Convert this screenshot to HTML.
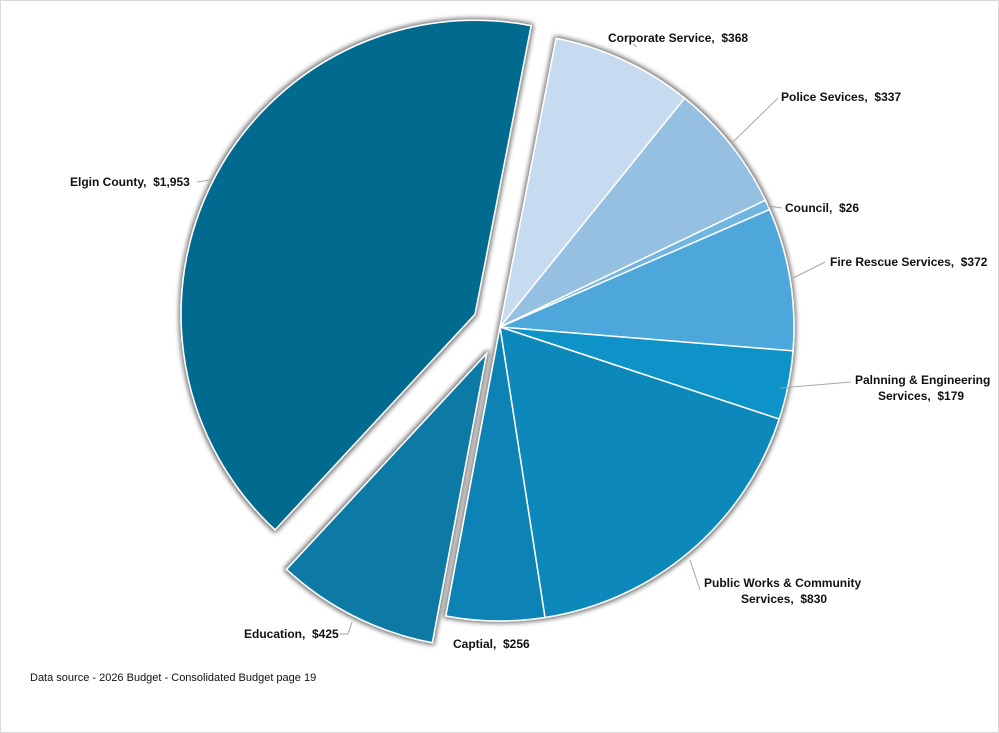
<!DOCTYPE html>
<html><head><meta charset="utf-8"><style>
html,body{margin:0;padding:0;background:#fff}
svg{display:block}
text{font-family:"Liberation Sans",Arial,sans-serif;font-size:12px;font-weight:bold;fill:#111;white-space:pre}
</style></head><body>
<svg width="999" height="733" viewBox="0 0 999 733">
<defs>
<filter id="sh" x="-20%" y="-20%" width="140%" height="140%">
<feMorphology in="SourceAlpha" operator="dilate" radius="1.5" result="d"/>
<feGaussianBlur in="d" stdDeviation="2.5"/>
<feComponentTransfer><feFuncA type="linear" slope="0.55"/></feComponentTransfer>
<feMerge><feMergeNode/><feMergeNode in="SourceGraphic"/></feMerge>
</filter>
</defs>
<rect x="0.5" y="0.5" width="998" height="732" fill="#fff" stroke="#d9d9d9"/>
<g id="pie" filter="url(#sh)" stroke="#fff" stroke-width="1.5"></g>
<g stroke="#a6a6a6" stroke-width="1" fill="none">
<polyline points="637,47 633,44"/>
<polyline points="733,142 778,98"/>
<polyline points="768,206 782,208"/>
<polyline points="793,278 825,262"/>
<polyline points="780,388 851,382"/>
<polyline points="690,560 700,590"/>
<polyline points="352,622 348,634 340,634"/>
<polyline points="210,180 197,182"/>
</g>
<text x="608" y="42">Corporate Service,  $368</text>
<text x="781" y="101">Police Sevices,  $337</text>
<text x="785" y="212">Council,  $26</text>
<text x="830" y="266">Fire Rescue Services,  $372</text>
<text x="855" y="384">Palnning &amp; Engineering</text>
<text x="878" y="400">Services,  $179</text>
<text x="704" y="587">Public Works &amp; Community</text>
<text x="741" y="603">Services,  $830</text>
<text x="453" y="648">Captial,  $256</text>
<text x="244" y="638">Education,  $425</text>
<text x="70" y="186">Elgin County,  $1,953</text>
<text x="30" y="681" style="font-weight:normal;font-size:11px">Data source - 2026 Budget - Consolidated Budget page 19</text>
</svg>
<script>
var d=[[368,"#c6dbef",0],[337,"#95c0e2",0],[26,"#6fb6e0",0],[372,"#4ea7da",0],[179,"#0d93c8",0],[830,"#0c88bb",0],[256,"#0b82b5",0],[425,"#0a7aa5",30],[1953,"#066b8f",28]];
var tot=0;d.forEach(function(x){tot+=x[0]});
var cx=500,cy=327,r=294,a=11*Math.PI/180,g=document.getElementById('pie'),s="";
d.forEach(function(x){
 var sw=x[0]/tot*2*Math.PI,m=a+sw/2,ox=Math.sin(m)*x[2],oy=-Math.cos(m)*x[2];
 var x0=cx+ox+r*Math.sin(a),y0=cy+oy-r*Math.cos(a),x1=cx+ox+r*Math.sin(a+sw),y1=cy+oy-r*Math.cos(a+sw);
 s+='<path fill="'+x[1]+'" d="M'+(cx+ox)+','+(cy+oy)+' L'+x0+','+y0+' A'+r+','+r+' 0 '+(sw>Math.PI?1:0)+' 1 '+x1+','+y1+' Z"/>';
 a+=sw;
});
g.innerHTML=s;
</script>
</body></html>
